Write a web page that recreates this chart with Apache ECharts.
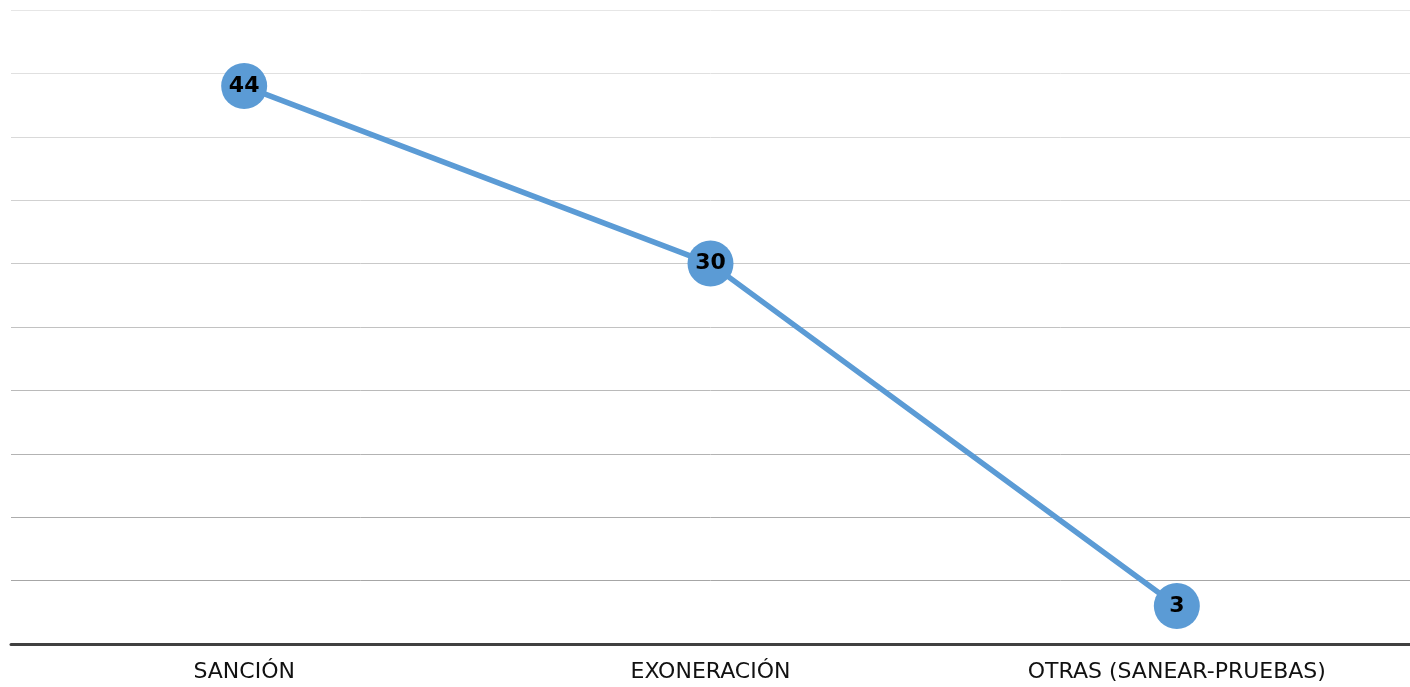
<!DOCTYPE html>
<html>
<head>
<meta charset="utf-8">
<script src="https://cdn.jsdelivr.net/npm/echarts@6/dist/echarts.min.js"></script>
<style>
html,body{margin:0;padding:0;background:#fff;}
#c{width:1410px;height:687px;}
</style>
</head>
<body>
<div id="c"></div>
<script>
const categories = ['SANCIÓN', 'EXONERACIÓN', 'OTRAS (SANEAR-PRUEBAS)'];
const values = [44, 30, 3];
const yMin = 0, yMax = 50, yInterval = 5;

const chart = echarts.init(document.getElementById('c'));
chart.setOption({
  animation: false,
  grid: { left: 11, right: 0, top: 10, bottom: 43, containLabel: false },
  xAxis: {
    type: 'category',
    data: categories,
    boundaryGap: true,
    axisLine: { lineStyle: { color: '#404040', width: 3 } },
    axisTick: { show: false },
    axisLabel: { color: '#111', fontSize: 22, fontFamily: 'DejaVu Sans', margin: 17 }
  },
  yAxis: {
    type: 'value',
    min: yMin, max: yMax, interval: yInterval,
    axisLine: { show: false },
    axisTick: { show: false },
    axisLabel: { show: false },
    splitLine: { lineStyle: { width: 1, color: ['#a0a0a0','#a6a6a6','#acacac','#b3b3b3','#bababa','#c2c2c2','#c9c9c9','#d1d1d1','#d9d9d9','#e0e0e0','#e6e6e6'] } }
  },
  series: [{
    type: 'line',
    data: values,
    symbol: 'circle',
    symbolSize: 46,
    lineStyle: { color: '#5b9bd5', width: 5.5 },
    itemStyle: { color: '#5b9bd5' },
    label: {
      show: true, position: 'inside', color: '#000',
      fontSize: 22, fontWeight: 'bold', fontFamily: 'DejaVu Sans'
    }
  }]
});
</script>
</body>
</html>
